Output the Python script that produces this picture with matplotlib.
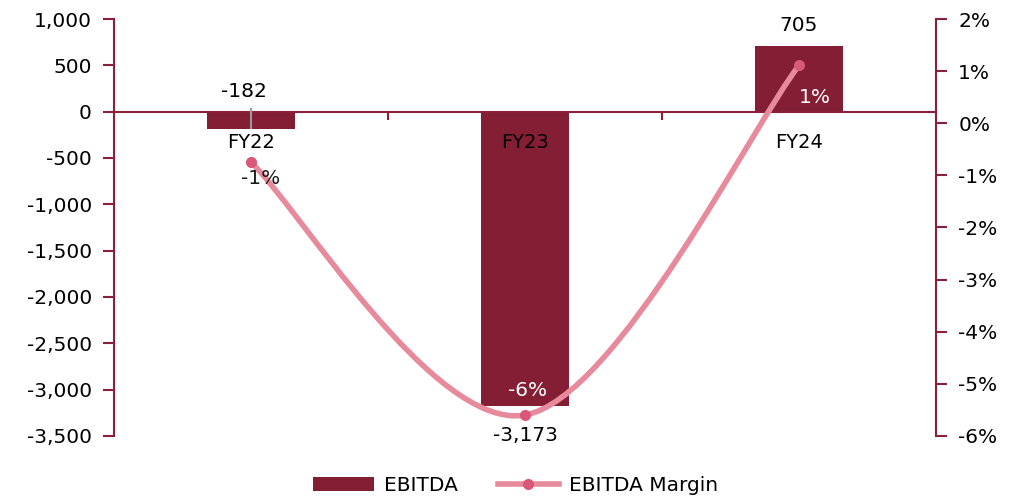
import matplotlib
matplotlib.use("Agg")
import matplotlib.pyplot as plt
from matplotlib.path import Path
from matplotlib.patches import PathPatch, Patch
from matplotlib.lines import Line2D
from matplotlib.ticker import FuncFormatter, FixedLocator

categories = ["FY22", "FY23", "FY24"]
ebitda = [-182, -3173, 705]
margin = [-0.75, -5.6, 1.11]          # percent
margin_labels = ["-1%", "-6%", "1%"]

BAR = "#841E35"
SPINE = "#8B1F3C"
LINE = "#E68A9C"
MARK = "#D95877"

plt.rcParams["font.family"] = ["DejaVu Sans"]
fs = 14.5

fig = plt.figure(figsize=(10.15, 5.01), dpi=100)
ax = fig.add_axes([0.1123, 0.130, 0.8099, 0.832])
ax2 = ax.twinx()
ax.set_axisbelow(False)

x = list(range(len(categories)))
ax.bar(x, ebitda, width=0.32, color=BAR, zorder=1)
ax.vlines(x[0], ebitda[0], 40, color="#9A9A9A", lw=1.5, zorder=1.5)

ax.set_xlim(-0.5, 2.5)
ax.set_ylim(-3500, 1000)
ax.yaxis.set_major_locator(FixedLocator(range(-3500, 1001, 500)))
ax.yaxis.set_major_formatter(FuncFormatter(lambda v, p: f"{int(v):,}"))

for s in ["top", "right"]:
    ax.spines[s].set_visible(False)
ax.spines["left"].set_color(SPINE)
ax.spines["left"].set_linewidth(1.5)
ax.spines["bottom"].set_position(("data", 0))
ax.spines["bottom"].set_color(SPINE)
ax.spines["bottom"].set_linewidth(1.5)
ax.spines["bottom"].set_zorder(1.2)

ax.xaxis.set_major_locator(FixedLocator([0.5, 1.5]))
ax.xaxis.set_major_formatter(FuncFormatter(lambda v, p: ""))
ax.xaxis.set_minor_locator(FixedLocator(x))
ax.xaxis.set_minor_formatter(FuncFormatter(lambda v, p: categories[int(round(v))]))
ax.tick_params(axis="x", which="major", direction="out", length=6, width=1.5, color=SPINE)
ax.tick_params(axis="x", which="minor", length=0, pad=15, labelsize=fs - 0.5)
ax.tick_params(axis="y", direction="out", length=8, width=1.5, color=SPINE, labelsize=fs, pad=8)

# value labels
ax.annotate(f"{ebitda[0]:,}", (x[0], 0), xytext=(-7, 20), textcoords="offset pixels",
            ha="center", va="center", fontsize=fs)
ax.annotate(f"{ebitda[1]:,}", (x[1], ebitda[1]), xytext=(0, -30), textcoords="offset pixels",
            ha="center", va="center", fontsize=fs)
ax.annotate(f"{ebitda[2]:,}", (x[2], ebitda[2]), xytext=(0, 21), textcoords="offset pixels",
            ha="center", va="center", fontsize=fs)

# secondary axis
ax2.set_ylim(-6, 2)
ax2.yaxis.set_major_locator(FixedLocator(range(-6, 3)))
ax2.yaxis.set_major_formatter(FuncFormatter(lambda v, p: f"{int(round(v))}%"))
for s in ["top", "left", "bottom"]:
    ax2.spines[s].set_visible(False)
ax2.spines["right"].set_color(SPINE)
ax2.spines["right"].set_linewidth(1.5)
ax2.tick_params(axis="y", direction="out", length=8, width=1.5, color=SPINE, labelsize=fs, pad=8)

# smoothed line (Catmull-Rom style Bezier, as spreadsheet smoothing)
pts = list(zip(x, margin))
verts = [pts[0]]
codes = [Path.MOVETO]
n = len(pts)
for i in range(n - 1):
    p0 = pts[i - 1] if i > 0 else pts[i]
    p1 = pts[i]
    p2 = pts[i + 1]
    p3 = pts[i + 2] if i + 2 < n else pts[i + 1]
    c1 = (p1[0] + (p2[0] - p0[0]) / 6, p1[1] + (p2[1] - p0[1]) / 6)
    c2 = (p2[0] - (p3[0] - p1[0]) / 6, p2[1] - (p3[1] - p1[1]) / 6)
    verts += [c1, c2, p2]
    codes += [Path.CURVE4] * 3
ax2.add_patch(PathPatch(Path(verts, codes), facecolor="none", edgecolor=LINE, lw=4,
                        capstyle="round", zorder=3))
ax2.plot(x, margin, "o", color=MARK, ms=7, zorder=4)

offsets = [(10, -16), (3, 25), (16, -32)]
colors = ["#1a1a1a", "white", "white"]
for xi, m, lab, off, c in zip(x, margin, margin_labels, offsets, colors):
    ax2.annotate(lab, (xi, m), xytext=off, textcoords="offset pixels",
                 ha="center", va="center", fontsize=fs, color=c, zorder=5)

handles = [Patch(facecolor=BAR, edgecolor="none"),
           Line2D([0], [0], color=LINE, lw=4, marker="o", ms=7, mfc=MARK, mec=MARK)]
fig.legend(handles, ["EBITDA", "EBITDA Margin"], loc="lower center",
           bbox_to_anchor=(0.508, -0.025), ncol=2, frameon=False, fontsize=fs,
           handlelength=3.0, columnspacing=2.0, handletextpad=0.5, numpoints=1)

fig.savefig("out.png", dpi=100)
